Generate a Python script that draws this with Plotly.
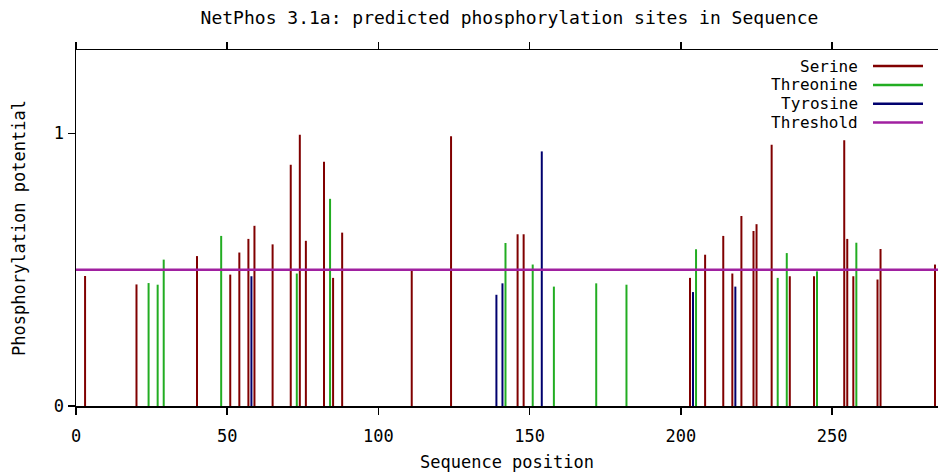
import plotly.graph_objects as go

# ---- data ----
serine_pos = [3, 20, 40, 51, 54, 57, 59, 65, 71, 74, 76, 82, 85, 88, 111, 124, 146, 148,
              203, 208, 214, 217, 220, 224, 225, 230, 236, 244, 254, 255, 257, 265, 266, 284]
serine_val = [0.477, 0.446, 0.550, 0.482, 0.563, 0.613, 0.661, 0.593, 0.885, 0.995, 0.606,
              0.896, 0.470, 0.636, 0.497, 0.990, 0.630, 0.630, 0.470, 0.555, 0.624, 0.486,
              0.697, 0.642, 0.667, 0.958, 0.476, 0.476, 0.975, 0.613, 0.476, 0.464, 0.576, 0.519]
threonine_pos = [24, 27, 29, 48, 73, 84, 142, 151, 158, 172, 182, 205, 232, 235, 245, 258]
threonine_val = [0.451, 0.445, 0.537, 0.624, 0.486, 0.760, 0.598, 0.519, 0.438, 0.450,
                 0.445, 0.575, 0.470, 0.561, 0.494, 0.599]
tyrosine_pos = [58, 139, 141, 154, 204, 218]
tyrosine_val = [0.476, 0.408, 0.450, 0.934, 0.418, 0.438]
threshold = 0.5
seq_length = 285

x_ticks = [0, 50, 100, 150, 200, 250]
y_ticks = [0, 1]

title_text = "NetPhos 3.1a: predicted phosphorylation sites in Sequence"
series_names = ["Serine", "Threonine", "Tyrosine", "Threshold"]
colors = ["#800000", "#22ad22", "#00006e", "#a020a0"]

FONT = "DejaVu Sans Mono"


def stems(pos, val):
    xs, ys = [], []
    for p, v in zip(pos, val):
        xs += [p, p, None]
        ys += [0, v, None]
    return xs, ys


fig = go.Figure()
for name, pos, val, col in [
    (series_names[0], serine_pos, serine_val, colors[0]),
    (series_names[1], threonine_pos, threonine_val, colors[1]),
    (series_names[2], tyrosine_pos, tyrosine_val, colors[2]),
]:
    xs, ys = stems(pos, val)
    fig.add_trace(go.Scatter(x=xs, y=ys, mode="lines", name=name,
                             line=dict(color=col, width=2), showlegend=False,
                             cliponaxis=False, hoverinfo="skip"))

fig.add_trace(go.Scatter(x=[0, seq_length], y=[threshold, threshold], mode="lines",
                         name=series_names[3], line=dict(color=colors[3], width=2.5),
                         showlegend=False, hoverinfo="skip"))

# custom legend (text on the left, line sample on the right)
legend_y = [0.955, 0.902, 0.849, 0.796]
annotations = []
shapes = []
for name, col, yy in zip(series_names, colors, legend_y):
    annotations.append(dict(text=name, xref="paper", yref="paper", x=0.9095, y=yy,
                            xanchor="right", yanchor="middle", showarrow=False,
                            height=17, valign="middle",
                            font=dict(family=FONT, size=16, color="black")))
    shapes.append(dict(type="line", xref="paper", yref="paper", x0=0.9246, x1=0.9826,
                       y0=yy, y1=yy, line=dict(color=col, width=2.5)))

fig.update_layout(
    width=940, height=472,
    margin=dict(l=76, r=2, t=50, b=66, autoexpand=False),
    paper_bgcolor="white", plot_bgcolor="white",
    font=dict(family=FONT, size=17, color="black"),
    title=dict(text=title_text, x=0.542, xanchor="center", y=0.962, yanchor="middle",
               yref="container", font=dict(family=FONT, size=18, color="black")),
    annotations=annotations, shapes=shapes,
    xaxis=dict(range=[0, seq_length], tickvals=x_ticks, ticks="outside", ticklen=7,
               tickwidth=1.5, tickcolor="black", showline=True, linecolor="black",
               linewidth=1.5, mirror="ticks", showgrid=False, zeroline=False,
               automargin=False, ticklabelstandoff=7,
               title=dict(text="Sequence position", standoff=14,
                          font=dict(family=FONT, size=17)),
               tickfont=dict(family=FONT, size=17)),
    yaxis=dict(range=[0, 1.306], tickvals=y_ticks, ticks="outside", ticklen=7,
               tickwidth=1.5, tickcolor="black", showline=True, linecolor="black",
               linewidth=1.5, showgrid=False, zeroline=False, automargin=False,
               title=dict(text="Phosphorylation potential", standoff=24,
                          font=dict(family=FONT, size=17)),
               tickfont=dict(family=FONT, size=17)),
    showlegend=False,
)

# remove the page's default body margin so the 940x472 figure fills the window
fig.write_html("out.html",
               config={"displayModeBar": False, "staticPlot": True},
               post_script="document.body.style.margin='0';"
                           "document.body.style.overflow='hidden';")
